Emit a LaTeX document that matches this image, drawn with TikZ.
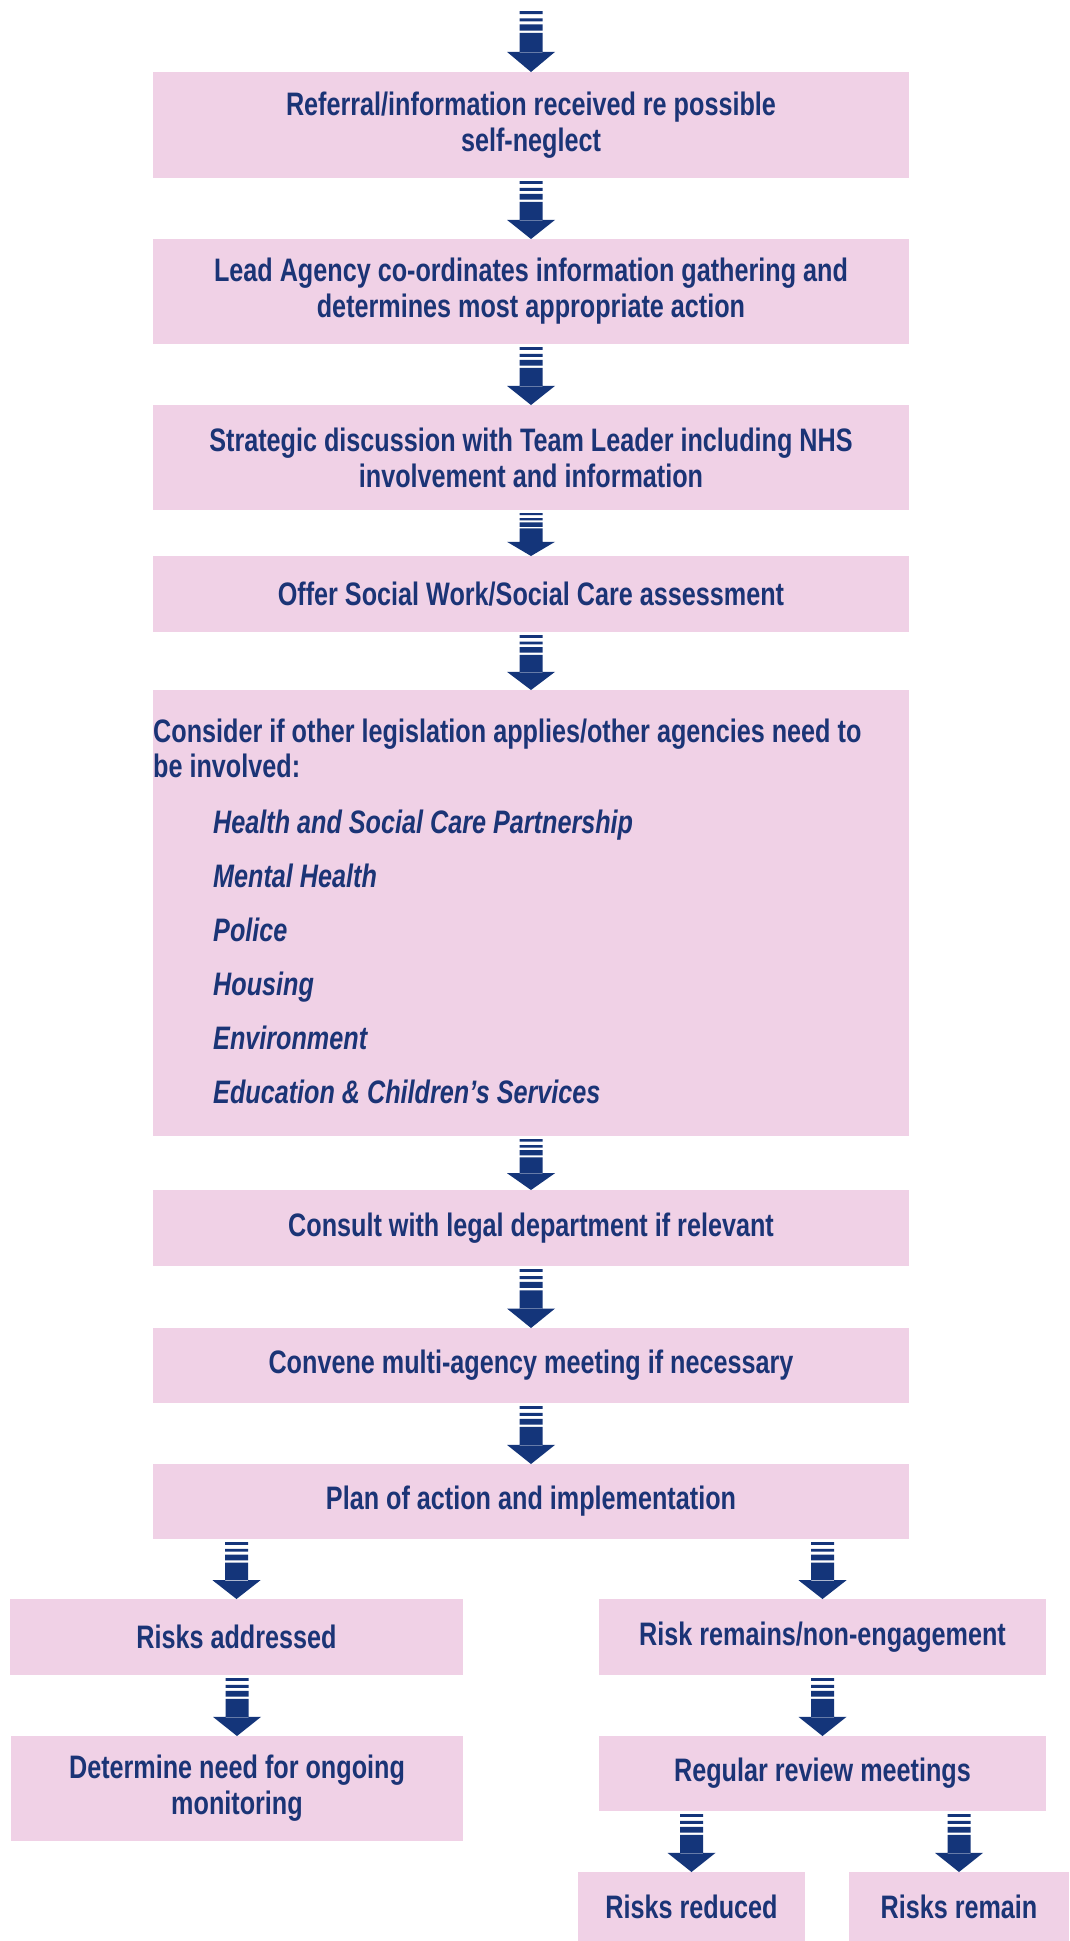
\documentclass[tikz,border=0pt]{standalone}
\usepackage{fontspec}
\setmainfont{Liberation Sans}[FakeStretch=0.775]
\usetikzlibrary{calc}
\definecolor{boxpink}{RGB}{240,209,230}
\definecolor{navy}{RGB}{20,53,122}
\definecolor{textnavy}{RGB}{27,52,118}
\tikzset{
  box/.style={fill=boxpink, draw=none, inner sep=0pt, outer sep=0pt, anchor=north west,
    align=center, text=textnavy, font=\fontsize{32.5}{36}\selectfont\bfseries},
  headtext/.style={anchor=west, inner sep=0pt, align=left, text=textnavy,
    font=\fontsize{32.5}{35}\selectfont\bfseries},
  itemtext/.style={anchor=base west, inner sep=0pt, text=textnavy,
    font=\fontsize{32.5}{36}\selectfont\bfseries\itshape},
}
\newcommand\flowarrow[2]{%
  \fill[navy] let \p1=(#1), \p2=(#2), \n1={\y1-\y2-3pt} in
    ({\x2-11.5pt},{\y1-3pt}) rectangle ({\x2+11.5pt},{\y1-3pt-0.05*\n1})
    ({\x2-11.5pt},{\y1-3pt-0.12*\n1}) rectangle ({\x2+11.5pt},{\y1-3pt-0.17*\n1})
    ({\x2-11.5pt},{\y1-3pt-0.22*\n1}) rectangle ({\x2+11.5pt},{\y1-3pt-0.32*\n1})
    ({\x2-11.5pt},{\y1-3pt-0.36*\n1}) rectangle ({\x2+11.5pt},{\y1-3pt-0.68*\n1})
    ({\x2-24pt},{\y1-3pt-0.67*\n1}) -- ({\x2+24pt},{\y1-3pt-0.67*\n1}) -- (\x2,\y2) -- cycle;
}
\begin{document}
\begin{tikzpicture}[x=1pt,y=1pt]
\fill[white] (0,0) rectangle (1069,-1941);
\useasboundingbox (0,0) rectangle (1069,-1941);
\coordinate (start) at (531,-8);
\node[box, minimum width=756pt, minimum height=106pt] (b1) at (153,-72)
  {Referral/information received re possible\\self-neglect};
\node[box, minimum width=756pt, minimum height=105pt] (b2) at (153,-239)
  {Lead Agency co-ordinates information gathering and\\determines most appropriate action};
\node[box, minimum width=756pt, minimum height=105pt] (b3) at (153,-405)
  {Strategic discussion with Team Leader including NHS\\involvement and information};
\node[box, minimum width=756pt, minimum height=76pt] (b4) at (153,-556)
  {Offer Social Work/Social Care assessment};
\node[box, minimum width=756pt, minimum height=446pt] (b5) at (153,-690) {};
\node[headtext] (b5h) at (153,-748.5)
  {Consider if other legislation applies/other agencies need to\\be involved:};
\node[itemtext] (i1) at (213,-833) {Health and Social Care Partnership};
\node[itemtext] (i2) at (213,-887) {Mental Health};
\node[itemtext] (i3) at (213,-941) {Police};
\node[itemtext] (i4) at (213,-995) {Housing};
\node[itemtext] (i5) at (213,-1049) {Environment};
\node[itemtext] (i6) at (213,-1103) {Education \& Children’s Services};
\node[box, minimum width=756pt, minimum height=76pt] (b6) at (153,-1190)
  {Consult with legal department if relevant};
\node[box, minimum width=756pt, minimum height=75pt] (b7) at (153,-1328)
  {Convene multi-agency meeting if necessary};
\node[box, minimum width=756pt, minimum height=75pt] (b8) at (153,-1464)
  {Plan of action and implementation};
\node[box, minimum width=453pt, minimum height=76pt] (ra) at (10,-1599)
  {Risks addressed};
\node[box, minimum width=447pt, minimum height=76pt] (rr) at (599,-1599)
  {Risk remains/non-engagement};
\node[box, minimum width=452pt, minimum height=105pt] (dn) at (11,-1736)
  {Determine need for ongoing\\monitoring};
\node[box, minimum width=447pt, minimum height=75pt] (rm) at (599,-1736)
  {Regular review meetings};
\node[box, minimum width=227pt, minimum height=69pt] (rd) at (578,-1872)
  {Risks reduced};
\node[box, minimum width=220pt, minimum height=69pt] (rn) at (849,-1872)
  {Risks remain};
\flowarrow{start}{b1.north}
\flowarrow{b1.south}{b2.north}
\flowarrow{b2.south}{b3.north}
\flowarrow{b3.south}{b4.north}
\flowarrow{b4.south}{b5.north}
\flowarrow{b5.south}{b6.north}
\flowarrow{b6.south}{b7.north}
\flowarrow{b7.south}{b8.north}
\flowarrow{b8.south}{ra.north}
\flowarrow{b8.south}{rr.north}
\flowarrow{ra.south}{dn.north}
\flowarrow{rr.south}{rm.north}
\flowarrow{rm.south}{rd.north}
\flowarrow{rm.south}{rn.north}
\end{tikzpicture}
\end{document}
